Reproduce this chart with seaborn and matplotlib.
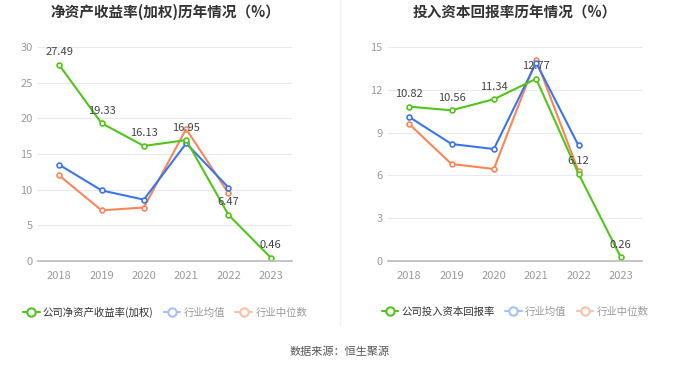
import numpy as np
import pandas as pd
import matplotlib
matplotlib.use('Agg')
import matplotlib.pyplot as plt
import seaborn as sns
from matplotlib.lines import Line2D

years = ['2018', '2019', '2020', '2021', '2022', '2023']

roe_company = [27.49, 19.33, 16.13, 16.95, 6.47, 0.46]
roe_avg = [13.5, 9.9, 8.6, 16.5, 10.3]
roe_median = [12.0, 7.1, 7.5, 18.5, 9.5]

roic_company = [10.82, 10.56, 11.34, 12.77, 6.12, 0.26]
roic_avg = [10.1, 8.2, 7.85, 13.9, 8.1]
roic_median = [9.6, 6.8, 6.45, 14.1, 6.3]

GREEN = '#52c41a'
BLUE = '#3b76e8'
ORANGE = '#fa8558'

sns.set_style('white')
plt.rcParams['font.family'] = ['Noto Sans CJK SC', 'DejaVu Sans']

fig = plt.figure(figsize=(6.8, 3.67), dpi=100)


def draw(ax, company, avg, median, ymax, step, title, comp_label):
    x_all = np.arange(len(years))
    df_c = pd.DataFrame({'x': x_all, 'y': company})
    df_a = pd.DataFrame({'x': x_all[:len(avg)], 'y': avg})
    df_m = pd.DataFrame({'x': x_all[:len(median)], 'y': median})
    for d, c in [(df_m, ORANGE), (df_a, BLUE), (df_c, GREEN)]:
        sns.lineplot(data=d, x='x', y='y', ax=ax, color=c, linewidth=1.5,
                     marker='o', markersize=3.5, markerfacecolor='white',
                     markeredgecolor=c, markeredgewidth=1.2)
    for xi, v in zip(x_all, company):
        ax.text(xi, v + ymax * 0.035, '%.2f' % v, ha='center', va='bottom',
                fontsize=8, color='#444444')
    ax.set_xlim(-0.5, len(years) - 0.5)
    ax.set_ylim(0, ymax)
    ax.set_xticks(x_all)
    ax.set_xticklabels(years)
    ax.set_yticks(np.arange(0, ymax + 0.01, step))
    ax.grid(axis='y', color='#e6e9f2', linewidth=0.8)
    ax.set_axisbelow(True)
    for s in ['top', 'right', 'left']:
        ax.spines[s].set_visible(False)
    ax.spines['bottom'].set_color('#bbbbbb')
    ax.spines['bottom'].set_linewidth(1.2)
    ax.tick_params(axis='both', colors='#999999', labelsize=8, length=0, pad=4)
    ax.tick_params(axis='x', length=3, color='#bbbbbb')
    ax.set_xlabel('')
    ax.set_ylabel('')

    pos = ax.get_position()
    fig.text((pos.x0 + pos.x1) / 2, 1 - 12 / 367, title, ha='center',
             va='center', fontsize=10.5, fontweight='bold', color='#333333')

    handles = [
        Line2D([0], [0], color=GREEN, marker='o', markersize=6,
               markerfacecolor='white', markeredgewidth=1.5, linewidth=1.5),
        Line2D([0], [0], color='#a6c1f4', marker='o', markersize=6,
               markerfacecolor='white', markeredgewidth=1.5, linewidth=1.5),
        Line2D([0], [0], color='#fcc0a8', marker='o', markersize=6,
               markerfacecolor='white', markeredgewidth=1.5, linewidth=1.5),
    ]
    leg = ax.legend(handles, [comp_label, '行业均值', '行业中位数'],
                    loc='upper center', bbox_to_anchor=(0.5, -0.17), ncol=3,
                    frameon=False, fontsize=7.5, handlelength=1.6,
                    handletextpad=0.3, columnspacing=1.0)
    for t, c in zip(leg.get_texts(), ['#333333', '#999999', '#999999']):
        t.set_color(c)


ax1 = fig.add_axes([38 / 680, 1 - 261 / 367, 254 / 680, 214 / 367])
ax2 = fig.add_axes([388 / 680, 1 - 261 / 367, 254 / 680, 214 / 367])

draw(ax1, roe_company, roe_avg, roe_median, 30, 5,
     '净资产收益率(加权)历年情况（%）', '公司净资产收益率(加权)')
draw(ax2, roic_company, roic_avg, roic_median, 15, 3,
     '投入资本回报率历年情况（%）', '公司投入资本回报率')

fig.add_artist(Line2D([340 / 680, 340 / 680], [1 - 325 / 367, 1.0],
                      color='#f0f0f0', linewidth=1))
fig.text(0.5, 1 - 352 / 367, '数据来源：恒生聚源', ha='center', va='center',
         fontsize=8, color='#555555')

fig.savefig('out.png', dpi=100)
